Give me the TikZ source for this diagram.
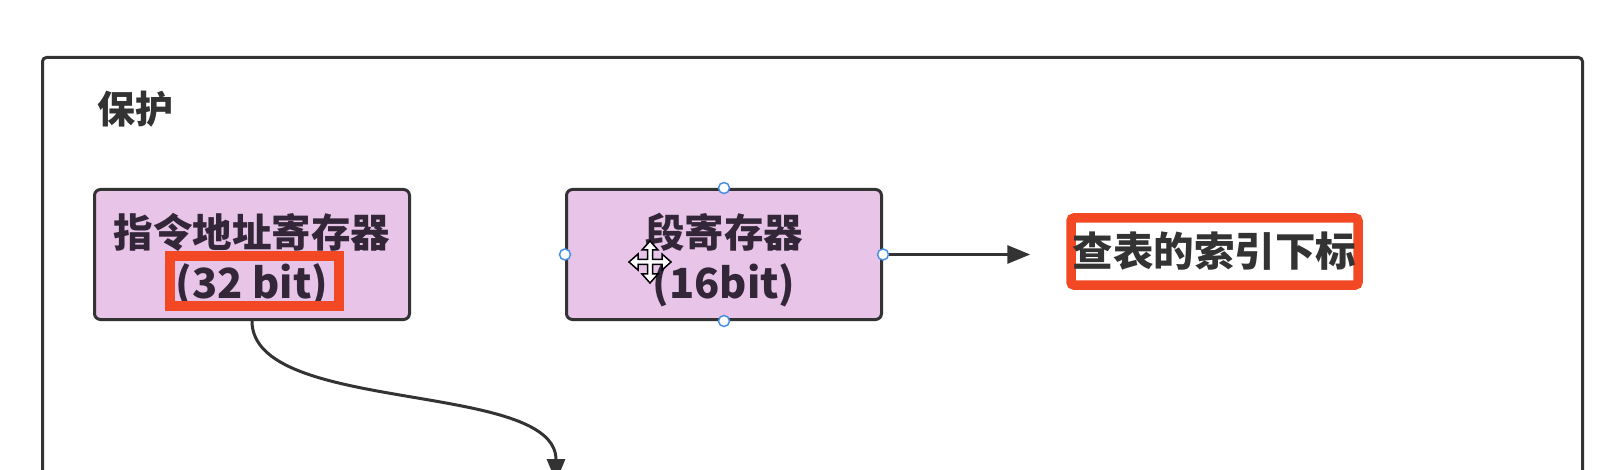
\documentclass[tikz,border=0pt]{standalone}
\usepackage{fontspec}
\newfontfamily\cjk{Noto Sans CJK SC}
\usetikzlibrary{arrows.meta}
\definecolor{boxfill}{RGB}{232,196,232}
\definecolor{boxline}{RGB}{51,51,51}
\definecolor{boxtext}{RGB}{50,38,56}
\definecolor{hlred}{RGB}{242,72,36}
\definecolor{handle}{RGB}{74,144,226}
\definecolor{darktext}{RGB}{51,51,51}
\tikzset{
  regbox/.style={draw=boxline, line width=3pt, fill=boxfill, rounded corners=6pt,
    minimum width=315pt, minimum height=130pt, inner sep=0pt, align=center,
    text=boxtext, font=\cjk\bfseries\fontsize{39.5}{48}\selectfont},
  hlbox/.style={draw=hlred, line width=10pt},
  conn/.style={draw=boxline, line width=3pt, -{Triangle[length=23pt,width=18pt]}},
  handledot/.style={circle, draw=handle, fill=white, line width=1.5pt, minimum size=11pt, inner sep=0pt},
  titletext/.style={font=\cjk\bfseries\fontsize{38}{46}\selectfont, text=darktext, inner sep=0pt}
}
\newcommand{\latline}[1]{{\fontsize{41.5}{48}\selectfont #1}}
\newcommand{\topstrut}{\rule{0pt}{45pt}}
\begin{document}
\begin{tikzpicture}[x=1pt,y=-1pt]
\useasboundingbox (0,0) rectangle (1608,470);
\clip (0,0) rectangle (1608,470);
\fill[white] (0,0) rectangle (1608,470);
% outer frame
\draw[boxline, line width=3pt, rounded corners=4pt] (42.5,57.5) rectangle (1582.5,520);
\node[titletext] (title) at (135,109) {保护};
% register boxes
\node[regbox] (b1) at (252,254.5) {\topstrut 指令地址寄存器\\[3pt]\latline{(32 bit)}};
\node[regbox] (b2) at (724,254.5) {\topstrut 段寄存器\\[3pt]\latline{(16bit)}};
% highlight on 32 bit
\draw[hlbox] (170,256) rectangle (339,306);
% target label
\node[draw=hlred, line width=9.5pt, rounded corners=3pt, fill=white, minimum width=287pt, minimum height=67pt,
      inner sep=0pt, font=\cjk\bfseries\fontsize{40.5}{46}\selectfont, text=darktext] (tgt) at (1214.5,251.5) {查表的索引下标};
% connectors
\coordinate (c1) at (556,482);
\draw[conn] (b1.south) .. controls (252,415) and (556,380) .. (c1);
\draw[conn, shorten >=36pt] (b2.east) -- (tgt.west |- b2.east);
% selection handles
\node[handledot] (h1) at (b2.north) {};
\node[handledot] (h2) at (b2.south) {};
\node[handledot] (h3) at (b2.west) {};
\node[handledot] (h4) at (b2.east) {};
% move cursor
\begin{scope}[shift={(650,262)}]
\draw[black, fill=white, line width=1.5pt, line join=miter]
 (0,-21) -- (8,-12) -- (2.5,-12) -- (2.5,-2.5) -- (12,-2.5) -- (12,-8) -- (21,0) -- (12,8) -- (12,2.5)
 -- (2.5,2.5) -- (2.5,12) -- (8,12) -- (0,21) -- (-8,12) -- (-2.5,12) -- (-2.5,2.5) -- (-12,2.5)
 -- (-12,8) -- (-21,0) -- (-12,-8) -- (-12,-2.5) -- (-2.5,-2.5) -- (-2.5,-12) -- (-8,-12) -- cycle;
\end{scope}
\end{tikzpicture}
\end{document}
